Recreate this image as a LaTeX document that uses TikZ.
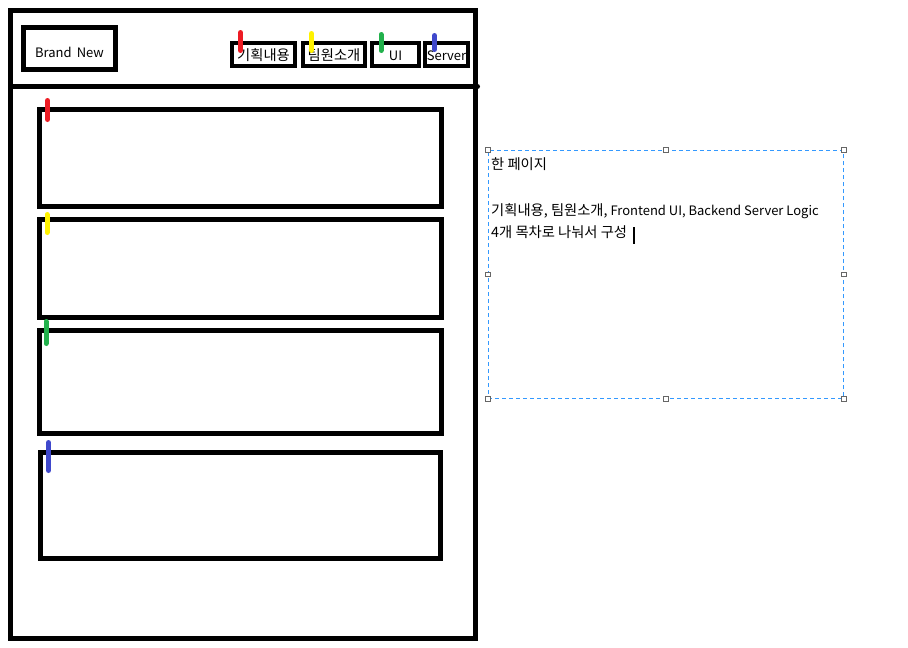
\documentclass[tikz,border=0pt]{standalone}
\usepackage{fontspec}
\setmainfont{Noto Sans CJK KR}
\newfontfamily\kr{Noto Sans CJK KR}[Scale=1.1]
\usetikzlibrary{positioning}

\definecolor{tabred}{HTML}{ED1C24}
\definecolor{tabyellow}{HTML}{FFF200}
\definecolor{tabgreen}{HTML}{22B14C}
\definecolor{tabblue}{HTML}{3F48CC}
\definecolor{noteblue}{HTML}{3399FF}

\begin{document}
\begin{tikzpicture}[x=1pt, y=-1pt, font=\fontsize{13}{16}\selectfont,
    frame/.style={draw, line width=5pt, inner sep=0pt},
    menu/.style={draw, line width=4pt, inner sep=0pt, minimum height=23pt, text height=11pt, text depth=0pt},
    section/.style={draw, line width=5pt, inner sep=0pt, minimum width=402pt},
    tab/.style={line width=5pt, line cap=round},
    handle/.style={draw=black!60, fill=white, line width=1pt, minimum size=4.5pt, inner sep=0pt}]

\useasboundingbox (0,0) rectangle (908,648);

\node[frame, minimum width=465pt, minimum height=627.5pt] (page) at (243,324.25) {};
\coordinate (divider-l) at (10.5,86.5);
\coordinate (divider-r) at (477.5,86.5);
\draw[line width=5pt, line cap=round] (divider-l) -- (divider-r);

\node[frame, minimum width=92pt, minimum height=42pt, text height=17pt, text depth=0pt] (brand) at (69.5,48.5) {Brand\hspace{0.4em}New};

\node[menu, minimum width=63pt] (plan) at (263.5,54.5) {\kr 기획내용};
\node[menu, minimum width=62pt, right=4pt of plan] (team) {\kr 팀원소개};
\node[menu, minimum width=47pt, right=3pt of team] (ui) {UI};
\node[menu, minimum width=43pt, right=2pt of ui] (server) {Server};

\node[section, minimum height=96.5pt] (section1) at (240.5,157.75) {};
\node[section, minimum height=97.5pt, below=8.5pt of section1] (section2) {};
\node[section, minimum height=102.5pt, below=8.5pt of section2] (section3) {};
\node[section, minimum width=400pt, minimum height=105.5pt, below=14.5pt of section3] (section4) {};

\foreach \x/\ya/\yb/\c in {47.5/100.5/119.5/tabred, 47/214.5/232.5/tabyellow,
    46/321.5/343.5/tabgreen, 48.5/442.5/470.5/tabblue,
    240.5/32.5/50.5/tabred, 311.5/33.5/50.5/tabyellow,
    381/34.5/50.5/tabgreen, 434.5/35.5/49.5/tabblue}
    \draw[tab, \c] (\x,\ya) -- (\x,\yb);

\node[draw=noteblue, line width=1pt, dash pattern=on 4pt off 3pt, inner sep=0pt,
    minimum width=355pt, minimum height=247.6pt] (note) at (665.8,274.5) {};
\foreach \a/\n in {north west/nw, north/n, north east/ne, east/e,
    south east/se, south/s, south west/sw, west/w}
    \node[handle] (handle-\n) at (note.\a) {};

\node[anchor=base west, inner sep=0pt] (title) at (491,169) {\kr 한 페이지};
\node[anchor=base west, inner sep=0pt] (line1) at (491,215.5) {{\kr 기획내용, 팀원소개,} Frontend UI, Backend Server Logic};
\node[below=22pt of line1.base west, anchor=base west, inner sep=0pt] (line2) {\kr 4개 목차로 나눠서 구성};
\coordinate (cursor-t) at ([xshift=6.5pt, yshift=10.5pt]line2.base east);
\coordinate (cursor-b) at ([xshift=6.5pt, yshift=-6.5pt]line2.base east);
\draw[line width=1.5pt] (cursor-t) -- (cursor-b);

\end{tikzpicture}
\end{document}
